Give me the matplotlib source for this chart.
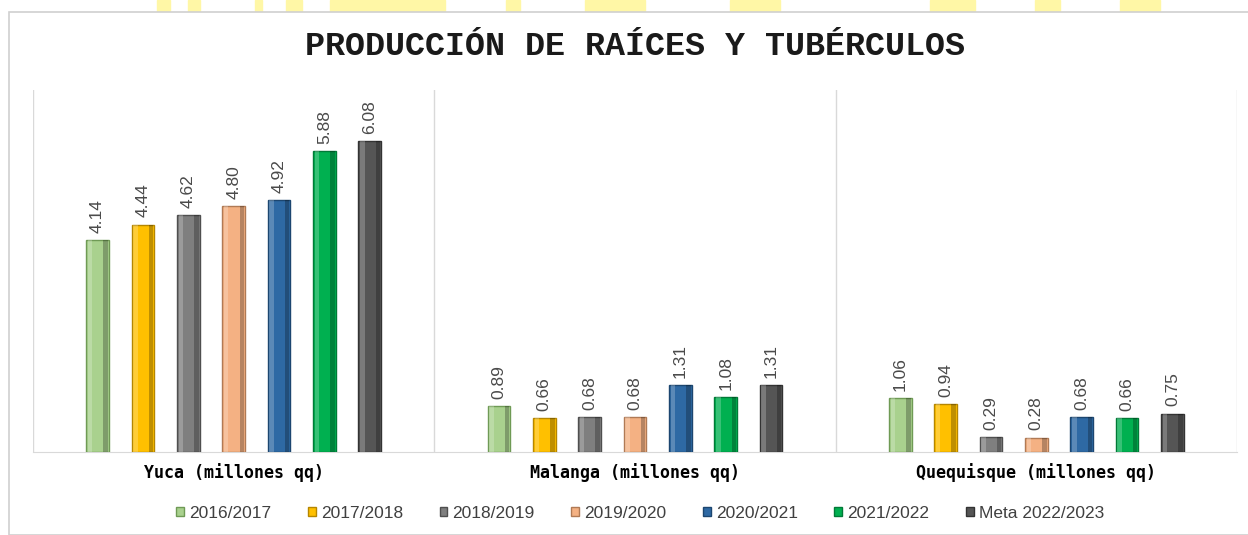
import matplotlib
matplotlib.use("Agg")
import matplotlib.pyplot as plt
from matplotlib.patches import Rectangle
import numpy as np

# datos (millones de qq)
categorias = ["Yuca (millones qq)", "Malanga (millones qq)", "Quequisque (millones qq)"]
series = ["2016/2017", "2017/2018", "2018/2019", "2019/2020", "2020/2021", "2021/2022", "Meta 2022/2023"]
valores = [
    [4.14, 0.89, 1.06],
    [4.44, 0.66, 0.94],
    [4.62, 0.68, 0.29],
    [4.80, 0.68, 0.28],
    [4.92, 1.31, 0.68],
    [5.88, 1.08, 0.66],
    [6.08, 1.31, 0.75],
]
colores = ["#a9d18e", "#ffc000", "#7f7f7f", "#f4b183", "#2e69a4", "#00b050", "#555555"]
bordes = ["#6f9a55", "#b58600", "#4f4f4f", "#b07a55", "#1c4670", "#007a37", "#333333"]

fig = plt.figure(figsize=(12.48, 5.35), dpi=100)

# manchas amarillas de fondo (marca de agua) en la franja superior
manchas = [(157, 13), (188, 12), (255, 7), (286, 16), (330, 70), (400, 45), (506, 14),
           (585, 60), (730, 50), (930, 45), (1035, 25), (1120, 40)]
for x0, w in manchas:
    fig.patches.append(Rectangle((x0 / 1248, 1 - 12 / 535), w / 1248, 12 / 535,
                                 transform=fig.transFigure, color="#fff7a6", zorder=0))

# marco del grafico
fig.patches.append(Rectangle((9 / 1248, 0), 1.0, 1 - 12 / 535, transform=fig.transFigure,
                             facecolor="white", edgecolor="#d0d0d0", linewidth=1.2, zorder=1))

ax = fig.add_axes([33 / 1248, 1 - 452 / 535, (1237 - 33) / 1248, (452 - 90) / 535])
ax.set_zorder(2)
ax.patch.set_alpha(0)

x = np.arange(len(categorias))
paso = 0.113
ancho = 0.056
for i, serie in enumerate(series):
    pos = x + (i - 3) * paso
    bars = ax.bar(pos, valores[i], ancho, color=colores[i], edgecolor=bordes[i],
                  linewidth=1.0, label=serie, zorder=3)
    # efecto biselado: franja clara a la izquierda, oscura a la derecha
    ax.bar(pos - ancho * 0.33, valores[i], ancho * 0.2, color="white", alpha=0.22,
           linewidth=0, zorder=4)
    ax.bar(pos + ancho * 0.36, valores[i], ancho * 0.2, color="black", alpha=0.25,
           linewidth=0, zorder=4)
    for b, v in zip(bars, valores[i]):
        ax.text(b.get_x() + b.get_width() / 2, v + 0.14, f"{v:.2f}", rotation=90,
                ha="center", va="bottom", fontsize=12.5, color="#4a4a4a",
                family="Liberation Sans")

ax.set_xlim(-0.5, 2.5)
ax.set_ylim(0, 7.07)
for s in ["top", "right", "left"]:
    ax.spines[s].set_visible(False)
ax.spines["bottom"].set_color("#d9d9d9")
for xv in [-0.5, 0.5, 1.5, 2.5]:
    ax.axvline(xv, color="#d9d9d9", linewidth=1, zorder=1)
ax.set_yticks([])
ax.set_xticks(x)
ax.set_xticklabels(categorias, family="DejaVu Sans Mono", fontweight="bold", fontsize=12)
ax.tick_params(axis="x", length=0, pad=8)

fig.text(0.509, 1 - 47 / 535, "PRODUCCIÓN DE RAÍCES Y TUBÉRCULOS", ha="center", va="center",
         family="Liberation Mono", fontweight="bold", fontsize=24, color="#1a1a1a")

fig.legend(loc="center", bbox_to_anchor=(0.513, 1 - 513 / 535), ncol=7, frameon=False,
           handlelength=0.45, handleheight=0.45, handletextpad=0.3, columnspacing=2.1,
           prop={"family": "Liberation Sans", "size": 12.5}, labelcolor="#404040")

fig.savefig("out.png", dpi=100)
